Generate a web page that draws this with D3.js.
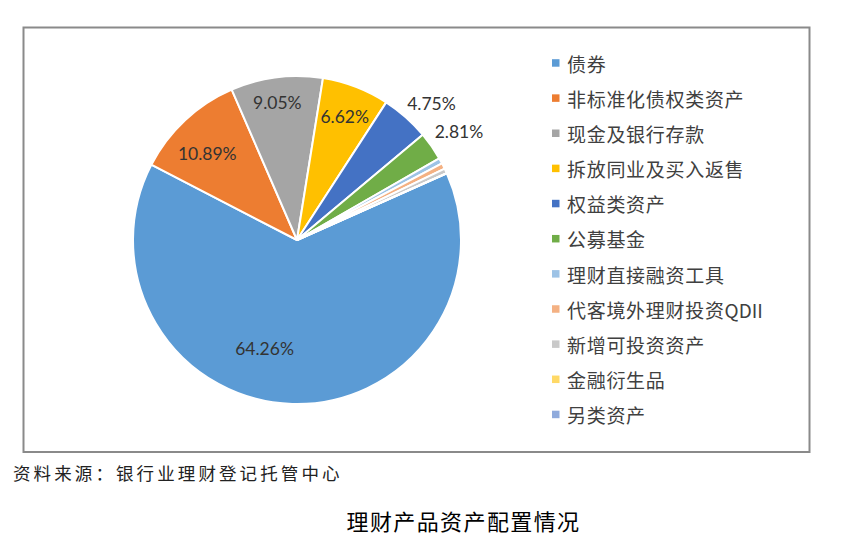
<!DOCTYPE html>
<html>
<head>
<meta charset="utf-8">
<script src="https://cdn.jsdelivr.net/npm/d3@7"></script>
<style>
  html, body { margin: 0; padding: 0; background: #fff; }
  svg { display: block; }
</style>
</head>
<body>
<svg id="chart" width="857" height="558"></svg>
<script>
// ---- data ----
const categories = ["债券", "非标准化债权类资产", "现金及银行存款", "拆放同业及买入返售", "权益类资产", "公募基金",
  "理财直接融资工具", "代客境外理财投资QDII", "新增可投资资产", "金融衍生品", "另类资产"];
const values = [64.26, 10.89, 9.05, 6.62, 4.75, 2.81, 0.55, 0.58, 0.47, 0.01, 0.01];
const showLabel = [true, true, true, true, true, true, false, false, false, false, false];
const colors = ["#5B9BD5", "#ED7D31", "#A5A5A5", "#FFC000", "#4472C4", "#70AD47",
  "#9DC3E6", "#F4B183", "#C9C9C9", "#FFD966", "#8FAADC"];
const sourceText = "资料来源：银行业理财登记托管中心";
const titleText = "理财产品资产配置情况";

// ---- layout ----
const svg = d3.select("#chart");
const cx = 297, cy = 240, R = 164;
const startDeg = 66;
// label placement: [radius factor, angle nudge in degrees]
const labelPlace = [[0.69, 15], [0.76, -3], [0.845, -1], [0.81, 0], [1.17, 3], [1.19, 1], [0,0],[0,0],[0,0],[0,0],[0,0]];

// frame
svg.append("rect")
  .attr("x", 23.5).attr("y", 27.5).attr("width", 786).attr("height", 424.5)
  .attr("fill", "none").attr("stroke", "#8a8a8a").attr("stroke-width", 2);

const pie = d3.pie().sort(null).value(d => d)
  .startAngle(startDeg * Math.PI / 180)
  .endAngle((startDeg + 360) * Math.PI / 180);
const arcs = pie(values);
const arc = d3.arc().innerRadius(0).outerRadius(R);

const g = svg.append("g").attr("transform", `translate(${cx},${cy})`);
g.selectAll("path.slice").data(arcs).join("path")
  .attr("class", "slice")
  .attr("d", arc)
  .attr("fill", (d, i) => colors[i])
  .attr("stroke", "#fff")
  .attr("stroke-width", 2)
  .attr("stroke-linejoin", "round");

const fmt = d3.format(".2f");
g.selectAll("text.lbl").data(arcs.filter((d, i) => showLabel[i])).join("text")
  .attr("class", "lbl")
  .attr("x", d => {
    const p = labelPlace[d.index];
    const a = (d.startAngle + d.endAngle) / 2 + p[1] * Math.PI / 180;
    return R * p[0] * Math.sin(a);
  })
  .attr("y", d => {
    const p = labelPlace[d.index];
    const a = (d.startAngle + d.endAngle) / 2 + p[1] * Math.PI / 180;
    return -R * p[0] * Math.cos(a);
  })
  .attr("text-anchor", "middle")
  .attr("dominant-baseline", "central")
  .attr("font-family", "Lato, 'Open Sans', sans-serif")
  .attr("font-size", 17.5)
  .attr("fill", "#333")
  .text(d => fmt(d.data) + "%");

// legend
const lg = svg.append("g");
const rowY = d3.scaleLinear().domain([0, categories.length - 1]).range([62.7, 414.2]);
const items = lg.selectAll("g").data(categories).join("g")
  .attr("transform", (d, i) => `translate(552,${rowY(i)})`);
items.append("rect")
  .attr("x", 0).attr("y", -3.5).attr("width", 7.5).attr("height", 7.5)
  .attr("fill", (d, i) => colors[i]);
items.append("text")
  .attr("x", 15).attr("y", 0)
  .attr("dominant-baseline", "central")
  .attr("font-family", "'Noto Sans CJK SC', sans-serif")
  .attr("font-size", 19)
  .attr("fill", "#404040")
  .each(function(d) {
    const t = d3.select(this);
    const m = d.match(/^([^A-Za-z]*)([A-Za-z]*)$/);
    t.append("tspan").attr("letter-spacing", 0.7).text(m[1]);
    if (m[2]) t.append("tspan").attr("letter-spacing", 0).text(m[2]);
  });

// source
svg.append("text")
  .attr("x", 13).attr("y", 472.5)
  .attr("dominant-baseline", "central")
  .attr("font-family", "'Noto Sans CJK SC', sans-serif")
  .attr("font-size", 17.5)
  .attr("letter-spacing", 3.1)
  .attr("fill", "#222")
  .text(sourceText);

// title
svg.append("text")
  .attr("x", 463.5).attr("y", 519.5)
  .attr("text-anchor", "middle")
  .attr("dominant-baseline", "central")
  .attr("font-family", "'Noto Sans CJK SC', sans-serif")
  .attr("font-size", 22)
  .attr("font-weight", 400)
  .attr("letter-spacing", 1.4)
  .attr("fill", "#000")
  .text(titleText);
</script>
</body>
</html>
